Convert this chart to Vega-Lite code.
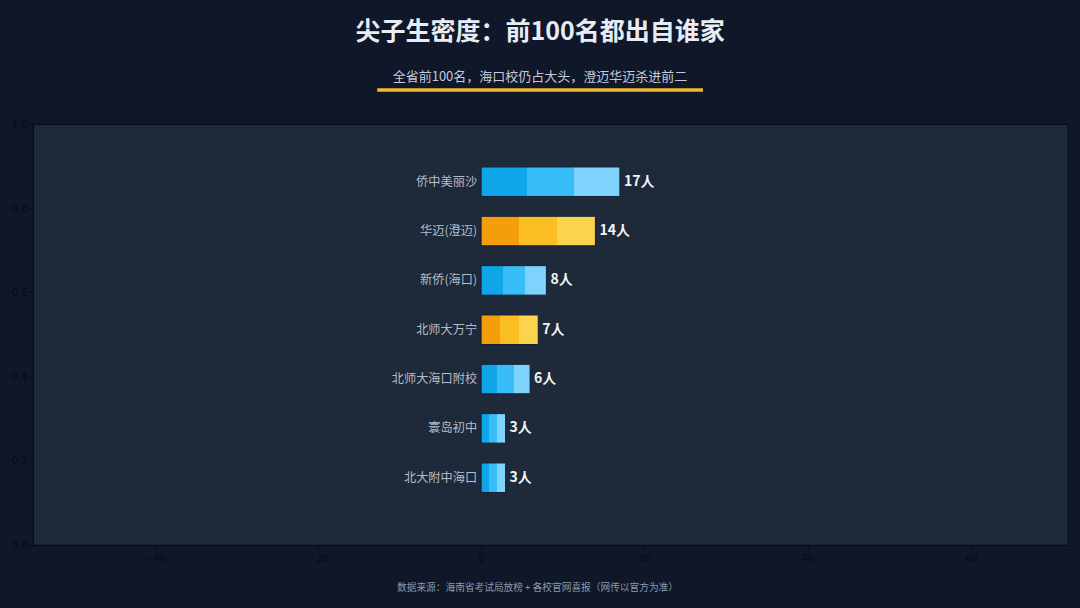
{
  "$schema": "https://vega.github.io/schema/vega-lite/v6.json",
  "width": 1035,
  "height": 421,
  "autosize": {"type": "none"},
  "padding": {"left": 33, "top": 124, "right": 12, "bottom": 63},
  "background": "#0f1729",
  "config": {
    "view": {"fill": "#1e2939", "stroke": "#080d18", "strokeWidth": 1.2},
    "font": "Noto Sans CJK SC"
  },
  "title": {
    "text": "尖子生密度：前100名都出自谁家",
    "subtitle": "全省前100名，海口校仍占大头，澄迈华迈杀进前二",
    "anchor": "middle",
    "dx": -10.5,
    "fontSize": 25,
    "fontWeight": "bold",
    "color": "#e8edf5",
    "font": "Noto Sans CJK SC",
    "subtitleFontSize": 13,
    "subtitleColor": "#c3ccd8",
    "subtitleFont": "Noto Sans CJK SC",
    "subtitlePadding": 26,
    "offset": 4
  },
  "data": {
    "values": [
      {"school": "侨中美丽沙", "n": 17, "region": "海口", "label": "17人"},
      {"school": "华迈(澄迈)", "n": 14, "region": "市县", "label": "14人"},
      {"school": "新侨(海口)", "n": 8, "region": "海口", "label": "8人"},
      {"school": "北师大万宁", "n": 7, "region": "市县", "label": "7人"},
      {"school": "北师大海口附校", "n": 6, "region": "海口", "label": "6人"},
      {"school": "寰岛初中", "n": 3, "region": "海口", "label": "3人"},
      {"school": "北大附中海口", "n": 3, "region": "海口", "label": "3人"}
    ]
  },
  "resolve": {"scale": {"y": "independent"}, "axis": {"y": "independent"}},
  "layer": [
    {
      "data": {"values": [{}]},
      "mark": {"type": "rule", "opacity": 0},
      "encoding": {
        "y": {
          "datum": 0,
          "type": "quantitative",
          "scale": {"domain": [0, 1], "nice": false},
          "axis": {
            "orient": "left",
            "values": [0, 0.2, 0.4, 0.6, 0.8, 1.0],
            "format": ".1f",
            "grid": false,
            "title": null,
            "domainColor": "#070b14",
            "tickColor": "#070b14",
            "labelColor": "#070b14",
            "labelFont": "DejaVu Sans",
            "labelFontSize": 10,
            "tickSize": 4,
            "labelPadding": 2
          }
        },
        "x": {
          "datum": 0,
          "type": "quantitative",
          "scale": {"domain": [-54.9, 71.9], "nice": false},
          "axis": {
            "values": [-40, -20, 0, 20, 40, 60],
            "grid": false,
            "title": "数据来源：海南省考试局放榜 + 各校官网喜报（网传以官方为准）",
            "titleFont": "Noto Sans CJK SC",
            "titleFontSize": 9.7,
            "titleFontWeight": "normal",
            "titleColor": "#8d99ab",
            "titlePadding": 19,
            "titleX": 504,
            "domainColor": "#070b14",
            "tickColor": "#070b14",
            "labelColor": "#070b14",
            "labelFont": "DejaVu Sans",
            "labelFontSize": 10,
            "tickSize": 4,
            "labelPadding": 4
          }
        }
      }
    },
    {
      "data": {"values": [{}]},
      "mark": {"type": "rule", "color": "#f0b92e", "strokeWidth": 3.5, "strokeCap": "butt", "clip": false},
      "encoding": {
        "x": {"datum": -12.73, "type": "quantitative", "scale": {"domain": [-54.9, 71.9], "nice": false}},
        "x2": {"datum": 27.18},
        "y": {"datum": 1.081, "type": "quantitative", "scale": {"domain": [0, 1], "nice": false}, "axis": null}
      }
    },
    {
      "encoding": {
        "y": {
          "field": "school",
          "type": "nominal",
          "sort": null,
          "axis": null,
          "scale": {"paddingInner": 0.402, "paddingOuter": 0.968, "align": 0.45}
        }
      },
      "layer": [
        {
          "mark": {"type": "bar", "stroke": "#13203a", "strokeWidth": 1},
          "encoding": {
            "x": {"field": "n", "type": "quantitative", "scale": {"domain": [-54.9, 71.9], "nice": false}},
            "x2": {"datum": 0},
            "fill": {
              "condition": {
                "test": "datum.region === '海口'",
                "value": {
                  "gradient": "linear", "x1": 0, "x2": 1, "y1": 0, "y2": 0,
                  "stops": [
                    {"offset": 0, "color": "#0ea5e9"},
                    {"offset": 0.3333, "color": "#0ea5e9"},
                    {"offset": 0.3334, "color": "#38bdf8"},
                    {"offset": 0.6666, "color": "#38bdf8"},
                    {"offset": 0.6667, "color": "#7dd3fc"},
                    {"offset": 1, "color": "#7dd3fc"}
                  ]
                }
              },
              "value": {
                "gradient": "linear", "x1": 0, "x2": 1, "y1": 0, "y2": 0,
                "stops": [
                  {"offset": 0, "color": "#f59e0b"},
                  {"offset": 0.3333, "color": "#f59e0b"},
                  {"offset": 0.3334, "color": "#fbbf24"},
                  {"offset": 0.6666, "color": "#fbbf24"},
                  {"offset": 0.6667, "color": "#fcd34d"},
                  {"offset": 1, "color": "#fcd34d"}
                ]
              }
            }
          }
        },
        {
          "mark": {"type": "text", "align": "right", "baseline": "middle", "dx": -4, "fontSize": 12.2, "color": "#b4beca", "font": "Noto Sans CJK SC"},
          "encoding": {
            "x": {"datum": 0, "type": "quantitative", "scale": {"domain": [-54.9, 71.9], "nice": false}},
            "text": {"field": "school"}
          }
        },
        {
          "mark": {"type": "text", "align": "left", "baseline": "middle", "dx": 4, "fontSize": 14, "fontWeight": "bold", "color": "#f1f5f9", "font": "Noto Sans CJK SC"},
          "encoding": {
            "x": {"field": "n", "type": "quantitative", "scale": {"domain": [-54.9, 71.9], "nice": false}},
            "text": {"field": "label"}
          }
        }
      ]
    }
  ]
}
